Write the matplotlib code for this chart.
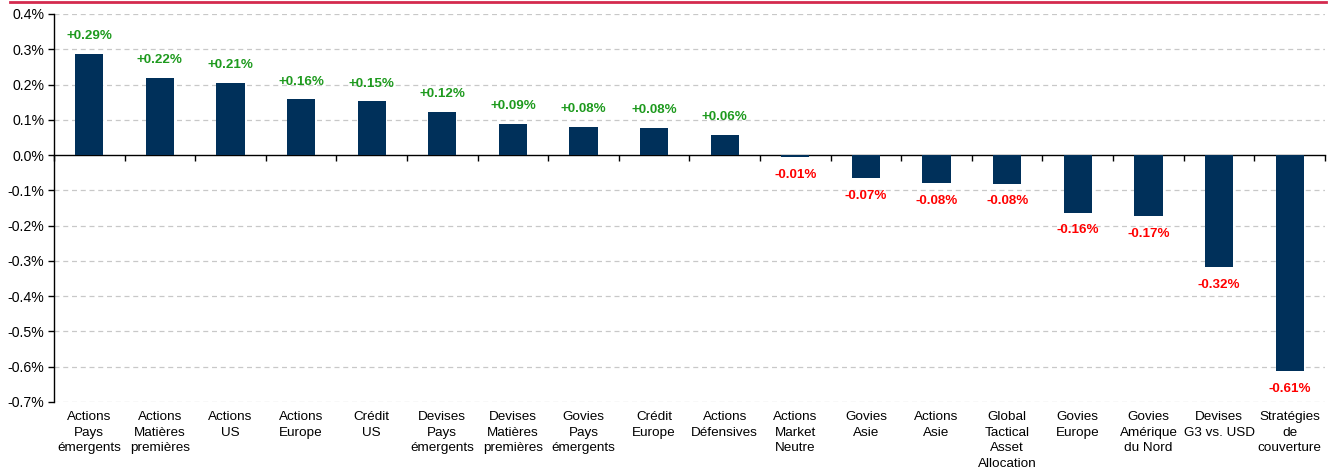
import matplotlib
matplotlib.use("Agg")
import matplotlib.pyplot as plt
from matplotlib.lines import Line2D
import numpy as np

plt.rcParams['font.family'] = ['Liberation Sans', 'DejaVu Sans']

categories = [
    "Actions\nPays\némergents", "Actions\nMatières\npremières", "Actions\nUS",
    "Actions\nEurope", "Crédit\nUS", "Devises\nPays\némergents",
    "Devises\nMatières\npremières", "Govies\nPays\némergents", "Crédit\nEurope",
    "Actions\nDéfensives", "Actions\nMarket\nNeutre", "Govies\nAsie",
    "Actions\nAsie", "Global\nTactical\nAsset\nAllocation", "Govies\nEurope",
    "Govies\nAmérique\ndu Nord", "Devises\nG3 vs. USD", "Stratégies\nde\ncouverture",
]
values = [0.287, 0.219, 0.205, 0.158, 0.152, 0.122, 0.088, 0.079, 0.077, 0.058,
          -0.006, -0.065, -0.080, -0.081, -0.163, -0.172, -0.318, -0.613]
value_labels = ["+0.29%", "+0.22%", "+0.21%", "+0.16%", "+0.15%", "+0.12%", "+0.09%",
                "+0.08%", "+0.08%", "+0.06%", "-0.01%", "-0.07%", "-0.08%", "-0.08%",
                "-0.16%", "-0.17%", "-0.32%", "-0.61%"]
yticks = [0.4, 0.3, 0.2, 0.1, 0.0, -0.1, -0.2, -0.3, -0.4, -0.5, -0.6, -0.7]

bar_color = "#00305a"
pos_color = "#1e9a1e"
neg_color = "#ff0000"

fig = plt.figure(figsize=(13.32, 4.69), dpi=100)
ax = fig.add_axes([0.0405, 0.1429, 0.9542, 0.8273])

x = np.arange(len(categories))
ax.bar(x, values, width=0.4, color=bar_color, zorder=3)

ax.set_xlim(-0.5, len(categories) - 0.5)
ax.set_ylim(-0.7, 0.4)
ax.set_yticks(yticks)
ax.set_yticklabels([f"{t:.1f}%" for t in yticks], fontsize=10.2)

for t in yticks:
    if abs(t) > 1e-9:
        ax.axhline(t, color="#c8c8c8", linestyle=(0, (4, 3)), linewidth=0.9, zorder=1)

for s in ["top", "right"]:
    ax.spines[s].set_visible(False)
ax.spines["bottom"].set_position(("data", 0))
ax.spines["left"].set_linewidth(1.0)
ax.spines["bottom"].set_linewidth(1.0)
ax.tick_params(axis="y", direction="out", length=4, width=1, pad=3)

ax.set_xticks(np.arange(len(categories) + 1) - 0.5)
ax.set_xticklabels([])
ax.tick_params(axis="x", direction="out", length=4, width=1)

trans = ax.get_xaxis_transform()
for xi, c in zip(x, categories):
    ax.text(xi, -0.024, c, transform=trans, ha="center", va="top", fontsize=9.7,
            linespacing=1.38)

for xi, v, lab in zip(x, values, value_labels):
    if v >= 0:
        ax.annotate(lab, (xi, v), xytext=(0, 8.5), textcoords="offset points",
                    ha="center", va="bottom", color=pos_color, fontsize=9.6,
                    fontweight="bold")
    else:
        ax.annotate(lab, (xi, v), xytext=(0, -8.5), textcoords="offset points",
                    ha="center", va="top", color=neg_color, fontsize=9.6,
                    fontweight="bold")

fig.add_artist(Line2D([10 / 1332, 1326 / 1332], [1 - 2.5 / 469, 1 - 2.5 / 469],
                      transform=fig.transFigure, color="#d42a4e", linewidth=2))

fig.savefig("out.png", dpi=100)
